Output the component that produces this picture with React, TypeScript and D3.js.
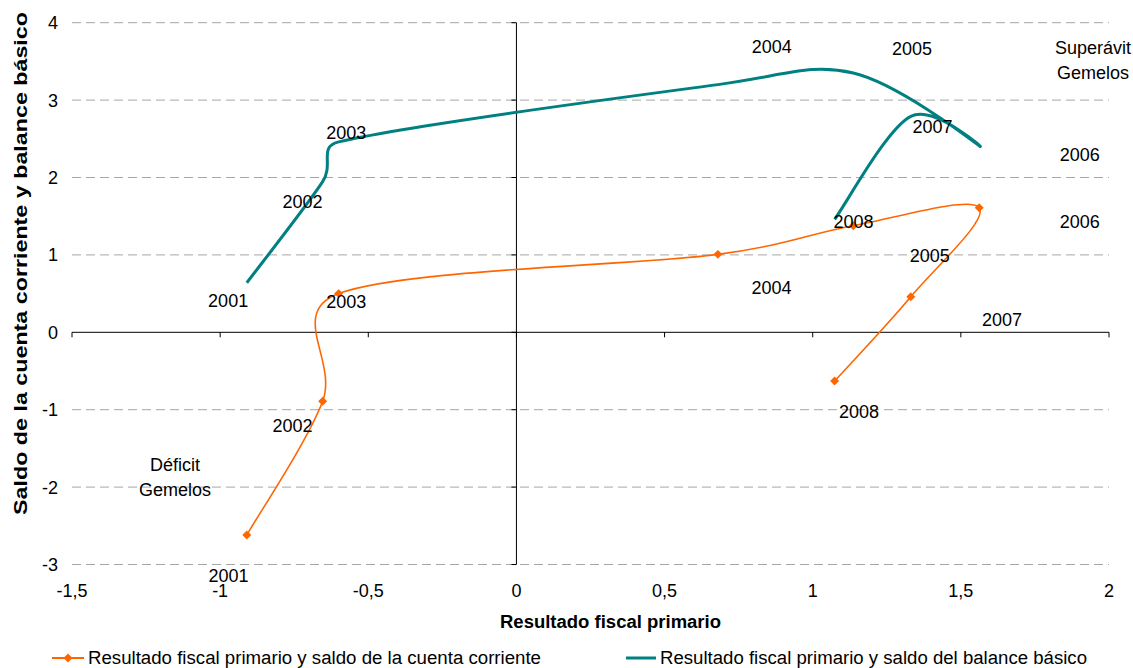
import React from "react";
import * as d3 from "d3";

// Years shared by both series
const years = ["2001", "2002", "2003", "2004", "2005", "2006", "2007", "2008"];
// Resultado fiscal primario (x)
const fiscal = [-0.91, -0.654, -0.6, 0.68, 1.137, 1.562, 1.331, 1.074];
// Saldo de la cuenta corriente (y, serie naranja)
const cuentaCorriente = [-2.62, -0.89, 0.5, 1.007, 1.377, 1.61, 0.46, -0.63];
// Saldo del balance básico (y, serie verde azulado)
const balanceBasico = [0.64, 1.946, 2.46, 3.2, 3.35, 2.41, 2.79, 1.46];

// Year label anchors (data units)
const labelCorrX = [-0.972, -0.756, -0.574, 0.861, 1.395, 1.901, 1.639, 1.156];
const labelCorrY = [-3.142, -1.198, 0.404, 0.576, 0.986, 1.425, 0.165, -1.023];
const labelBalX = [-0.973, -0.722, -0.574, 0.862, 1.335, 1.901, 1.404, 1.138];
const labelBalY = [0.417, 1.696, 2.575, 3.69, 3.669, 2.291, 2.665, 1.425];

const xTicks = [-1.5, -1, -0.5, 0, 0.5, 1, 1.5, 2];
const yTicks = [-3, -2, -1, 0, 1, 2, 3, 4];

const seriesNames = [
  "Resultado fiscal primario y saldo de la cuenta corriente",
  "Resultado fiscal primario y saldo del balance básico",
];

const W = 1133;
const H = 668;
const ORANGE = "#FF6600";
const TEAL = "#008080";
const FONT = "'Liberation Sans', Arial, sans-serif";

const x = d3.scaleLinear().domain([-1.5, 2]).range([72, 1109]);
const y = d3.scaleLinear().domain([-3, 4]).range([564.5, 22.7]);

const fmt = (v: number) => String(v).replace(".", ",");

// Spreadsheet-style smoothed line: cubic Bézier with 1/6 tangents,
// control arms limited to half of the segment length.
function smoothPath(pts: [number, number][]): string {
  const p = d3.path();
  p.moveTo(pts[0][0], pts[0][1]);
  const n = pts.length;
  for (let i = 0; i < n - 1; i++) {
    const p0 = pts[Math.max(0, i - 1)];
    const p1 = pts[i];
    const p2 = pts[i + 1];
    const p3 = pts[Math.min(n - 1, i + 2)];
    const d12 = Math.hypot(p2[0] - p1[0], p2[1] - p1[1]);
    const arm = (a: [number, number], b: [number, number]) => {
      let tx = (b[0] - a[0]) / 6;
      let ty = (b[1] - a[1]) / 6;
      const len = Math.hypot(tx, ty);
      const lim = d12 / 2;
      if (len > lim && len > 0) {
        tx *= lim / len;
        ty *= lim / len;
      }
      return [tx, ty];
    };
    const t1 = arm(p0, p2);
    const t2 = arm(p1, p3);
    p.bezierCurveTo(
      p1[0] + t1[0], p1[1] + t1[1],
      p2[0] - t2[0], p2[1] - t2[1],
      p2[0], p2[1]
    );
  }
  return p.toString();
}

// Square diamond marker (square turned 45°)
const marker = d3.symbol().type(d3.symbolSquare).size(40)();

export default function App() {
  const corrPts = fiscal.map((v, i) => [x(v), y(cuentaCorriente[i])] as [number, number]);
  const balPts = fiscal.map((v, i) => [x(v), y(balanceBasico[i])] as [number, number]);

  const x0 = x(0);
  const y0 = y(0);

  return (
    <svg
      width={W}
      height={H}
      viewBox={`0 0 ${W} ${H}`}
      style={{ position: "absolute", left: 0, top: 0, background: "#fff" }}
      fontFamily={FONT}
    >
      {/* grid lines */}
      {yTicks.filter((t) => t !== 0).map((t) => (
        <line
          key={"g" + t}
          x1={x(-1.5)}
          x2={x(2)}
          y1={y(t)}
          y2={y(t)}
          stroke="#A6A6A6"
          strokeWidth={1}
          strokeDasharray="9,5"
        />
      ))}

      {/* x axis through y = 0 */}
      <line x1={x(-1.5)} x2={x(2)} y1={y0} y2={y0} stroke="#000" strokeWidth={1} />
      {xTicks.map((t) => (
        <line key={"xt" + t} x1={x(t)} x2={x(t)} y1={y0} y2={y0 + 5} stroke="#000" />
      ))}
      {xTicks.map((t) => (
        <text
          key={"xl" + t}
          x={x(t)}
          y={591}
          dy="0.36em"
          textAnchor="middle"
          fontSize={18}
          fill="#000"
        >
          {fmt(t)}
        </text>
      ))}

      {/* y axis through x = 0 */}
      <line x1={x0} x2={x0} y1={y(4)} y2={y(-3)} stroke="#000" strokeWidth={1} />
      {yTicks.map((t) => (
        <line key={"yt" + t} x1={x0 - 5} x2={x0} y1={y(t)} y2={y(t)} stroke="#000" />
      ))}
      {yTicks.map((t) => (
        <text
          key={"yl" + t}
          x={58}
          y={y(t)}
          dy="0.36em"
          textAnchor="end"
          fontSize={18}
          fill="#000"
        >
          {fmt(t)}
        </text>
      ))}

      {/* axis titles */}
      <text
        x={610.5}
        y={622}
        dy="0.36em"
        textAnchor="middle"
        fontSize={18}
        fontWeight="bold"
        textLength={221}
        lengthAdjust="spacingAndGlyphs"
      >
        Resultado fiscal primario
      </text>
      <text
        transform={`translate(21,${263.5}) rotate(-90)`}
        textAnchor="middle"
        dy="0.36em"
        fontSize={18}
        fontWeight="bold"
        textLength={503}
        lengthAdjust="spacingAndGlyphs"
      >
        Saldo de la cuenta corriente y balance básico
      </text>

      {/* series lines */}
      <path d={smoothPath(balPts)} fill="none" stroke={TEAL} strokeWidth={3} />
      <path d={smoothPath(corrPts)} fill="none" stroke={ORANGE} strokeWidth={1.6} />
      {corrPts.map(([px, py], i) => (
        <path
          key={"m" + i}
          d={marker}
          transform={`translate(${px},${py}) rotate(45)`}
          fill={ORANGE}
        />
      ))}

      {/* year labels */}
      {years.map((yr, i) => (
        <text
          key={"lb" + yr}
          x={x(labelBalX[i])}
          y={y(labelBalY[i])}
          dy="0.36em"
          textAnchor="middle"
          fontSize={18}
        >
          {yr}
        </text>
      ))}
      {years.map((yr, i) => (
        <text
          key={"lc" + yr}
          x={x(labelCorrX[i])}
          y={y(labelCorrY[i])}
          dy="0.36em"
          textAnchor="middle"
          fontSize={18}
        >
          {yr}
        </text>
      ))}

      {/* quadrant notes */}
      <text x={x(1.946)} y={y(3.673)} dy="0.36em" textAnchor="middle" fontSize={18}>
        Superávit
      </text>
      <text x={x(1.946)} y={y(3.673) + 24.5} dy="0.36em" textAnchor="middle" fontSize={18}>
        Gemelos
      </text>
      <text x={x(-1.152)} y={y(-1.708)} dy="0.36em" textAnchor="middle" fontSize={18}>
        Déficit
      </text>
      <text x={x(-1.152)} y={y(-1.708) + 25.5} dy="0.36em" textAnchor="middle" fontSize={18}>
        Gemelos
      </text>

      {/* legend */}
      <g transform="translate(0,658)">
        <line x1={52} x2={84} y1={0} y2={0} stroke={ORANGE} strokeWidth={2} />
        <path d={marker} transform="translate(68,0) rotate(45)" fill={ORANGE} />
        <text
          x={88}
          y={0}
          dy="0.36em"
          fontSize={18}
          textLength={453}
          lengthAdjust="spacingAndGlyphs"
        >
          {seriesNames[0]}
        </text>
        <line x1={626} x2={656} y1={0} y2={0} stroke={TEAL} strokeWidth={3} />
        <text
          x={660}
          y={0}
          dy="0.36em"
          fontSize={18}
          textLength={427}
          lengthAdjust="spacingAndGlyphs"
        >
          {seriesNames[1]}
        </text>
      </g>
    </svg>
  );
}
